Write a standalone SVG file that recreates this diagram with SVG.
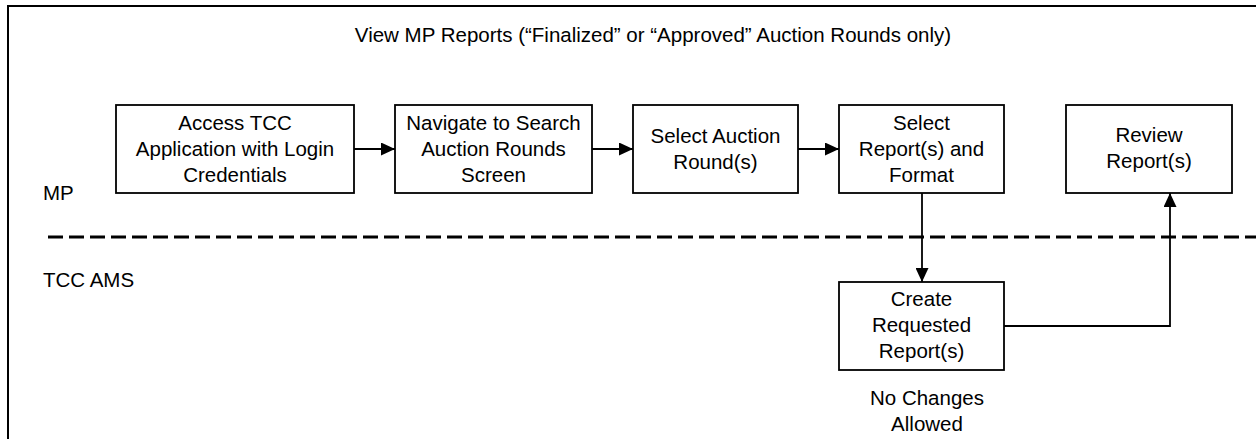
<svg xmlns="http://www.w3.org/2000/svg" width="1256" height="439" viewBox="0 0 1256 439">
  <style>
    text { font-family: "Liberation Sans", Arial, sans-serif; font-size: 20.5px; fill: #000; }
    .c { text-anchor: middle; }
    .box { fill: #fff; stroke: #000; stroke-width: 1.8; }
    .edge { fill: none; stroke: #000; stroke-width: 1.8; }
  </style>
  <defs>
    <marker id="arrow" viewBox="0 0 14 13" refX="14" refY="6.5" markerWidth="14" markerHeight="13" markerUnits="userSpaceOnUse" orient="auto">
      <path d="M0,0 L14,6.5 L0,13 Z" fill="#000"/>
    </marker>
  </defs>
  <rect width="1256" height="439" fill="#fff"/>

  <!-- frame and lane divider -->
  <g id="frame">
    <path d="M8,439 V6 H1256" fill="none" stroke="#000" stroke-width="2"/>
    <line x1="48" y1="237" x2="1256" y2="237" stroke="#000" stroke-width="3" stroke-dasharray="15 6"/>
    <text x="653" y="42" class="c">View MP Reports (“Finalized” or “Approved” Auction Rounds only)</text>
    <text x="43" y="200">MP</text>
    <text x="43" y="287">TCC AMS</text>
  </g>

  <g id="access">
    <rect class="box" x="116" y="105" width="238" height="88"/>
    <text class="c" x="235" y="130">Access TCC</text>
    <text class="c" x="235" y="156">Application with Login</text>
    <text class="c" x="235" y="182">Credentials</text>
  </g>
  <g id="navigate">
    <rect class="box" x="395" y="105" width="197" height="88"/>
    <text class="c" x="493.5" y="130">Navigate to Search</text>
    <text class="c" x="493.5" y="156">Auction Rounds</text>
    <text class="c" x="493.5" y="182">Screen</text>
  </g>
  <g id="select-round">
    <rect class="box" x="633" y="105" width="165" height="88"/>
    <text class="c" x="715.5" y="143">Select Auction</text>
    <text class="c" x="715.5" y="169">Round(s)</text>
  </g>
  <g id="select-report">
    <rect class="box" x="839" y="105" width="165" height="88"/>
    <text class="c" x="921.5" y="130">Select</text>
    <text class="c" x="921.5" y="156">Report(s) and</text>
    <text class="c" x="921.5" y="182">Format</text>
  </g>
  <g id="review">
    <rect class="box" x="1066" y="105" width="166" height="88"/>
    <text class="c" x="1149" y="142">Review</text>
    <text class="c" x="1149" y="168">Report(s)</text>
  </g>
  <g id="create">
    <rect class="box" x="839" y="282" width="165" height="88"/>
    <text class="c" x="921.5" y="306">Create</text>
    <text class="c" x="921.5" y="332">Requested</text>
    <text class="c" x="921.5" y="358">Report(s)</text>
    <text class="c" x="927" y="405">No Changes</text>
    <text class="c" x="927" y="431">Allowed</text>
  </g>

  <g id="connectors">
    <line class="edge" x1="354" y1="149" x2="395" y2="149" marker-end="url(#arrow)"/>
    <line class="edge" x1="592" y1="149" x2="633" y2="149" marker-end="url(#arrow)"/>
    <line class="edge" x1="798" y1="149" x2="839" y2="149" marker-end="url(#arrow)"/>
    <line class="edge" x1="922" y1="193" x2="922" y2="282" marker-end="url(#arrow)"/>
    <polyline class="edge" points="1004,326 1170,326 1170,193" marker-end="url(#arrow)"/>
  </g>
</svg>
